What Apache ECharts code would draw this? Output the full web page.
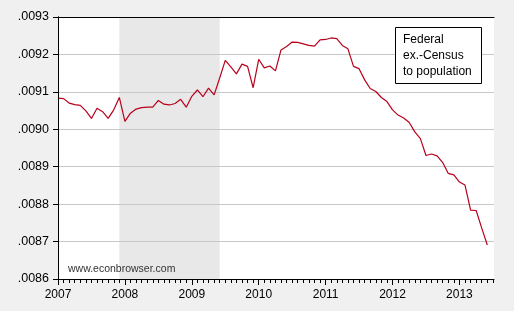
<!DOCTYPE html>
<html><head><meta charset="utf-8">
<script src="https://cdn.jsdelivr.net/npm/echarts@6/dist/echarts.min.js"></script>
<style>html,body{margin:0;padding:0;background:#F0F0F0}#c{width:514px;height:311px}</style>
</head><body><div id="c"></div>
<script>
// Monthly, 2007M01 .. 2013M06 (index 0 = 2007M01)
const startYear = 2007;
const tickLabels = ['2007','2008','2009','2010','2011','2012','2013'];
const ratio = [
  0.009083,0.009082,0.009070,0.009066,0.009064,0.009049,0.009029,0.009056,0.009047,0.009029,0.009052,0.009085,
  0.009021,0.009043,0.009054,0.009058,0.009059,0.009059,0.009077,0.009067,0.009065,0.009069,0.009080,0.009059,
  0.009088,0.009105,0.009087,0.009110,0.009092,0.009137,0.009184,0.009167,0.009148,0.009174,0.009168,0.009111,
  0.009187,0.009164,0.009169,0.009156,0.009212,0.009221,0.009233,0.009232,0.009228,0.009224,0.009222,0.009239,
  0.009240,0.009244,0.009242,0.009224,0.009215,0.009168,0.009162,0.009132,0.009109,0.009101,0.009085,0.009074,
  0.009052,0.009038,0.009030,0.009018,0.008993,0.008975,0.008930,0.008934,0.008929,0.008911,0.008882,0.008878,
  0.008859,0.008851,0.008784,0.008783,0.008736,0.008691
];
const recession = [11, 29]; // 2007M12 .. 2009M06
const legendLines = ['Federal', 'ex.-Census', 'to population'];
const watermark = 'www.econbrowser.com';

const nMonths = 78.2;
const majorTicks = tickLabels.map((t, i) => i * 12);
const minorTicks = [];
for (let m = 0; m <= 78; m++) minorTicks.push(m);
const font = 'Liberation Sans, Arial, sans-serif';

const chart = echarts.init(document.getElementById('c'), null, {renderer: 'canvas'});
chart.setOption({
  backgroundColor: '#F0F0F0',
  animation: false,
  grid: {left: 58, top: 17, right: 20, bottom: 32, show: true, backgroundColor: '#FFFFFF', borderWidth: 0},
  title: [
    {
      text: legendLines.join('\n'), left: 395, top: 27, padding: [5, 10, 4, 8],
      borderColor: '#000', borderWidth: 1, backgroundColor: '#FFFFFF',
      textStyle: {fontFamily: font, fontSize: 12, fontWeight: 'normal', color: '#000', lineHeight: 16},
      z: 10
    },
    {
      text: watermark, left: 68, top: 264, padding: 0,
      textStyle: {fontFamily: font, fontSize: 10.5, fontWeight: 'normal', color: '#333'},
      z: 10
    }
  ],
  xAxis: [
    {
      type: 'value', min: 0, max: nMonths, position: 'bottom', z: 4,
      axisLine: {show: true, lineStyle: {color: '#000', width: 1}},
      axisTick: {show: true, customValues: majorTicks, length: 6, lineStyle: {color: '#000'}},
      axisLabel: {show: true, customValues: majorTicks, margin: 10,
        formatter: v => tickLabels[Math.round(v / 12)],
        fontFamily: font, fontSize: 12, color: '#000'},
      splitLine: {show: false}
    },
    {
      type: 'value', min: 0, max: nMonths, position: 'bottom', z: 4,
      axisLine: {show: false},
      axisTick: {show: true, customValues: minorTicks, length: 4, lineStyle: {color: '#000'}},
      axisLabel: {show: false}, splitLine: {show: false}
    },
    {
      type: 'value', min: 0, max: nMonths, position: 'top', z: 4,
      axisLine: {show: true, lineStyle: {color: '#000', width: 1}},
      axisTick: {show: false}, axisLabel: {show: false}, splitLine: {show: false}
    }
  ],
  yAxis: [
    {
      type: 'value', min: 0.0086, max: 0.0093, interval: 0.0001, position: 'left', z: 2,
      axisLine: {show: true, lineStyle: {color: '#000', width: 1}},
      axisTick: {show: true, length: 5, lineStyle: {color: '#000'}},
      axisLabel: {margin: 9, fontFamily: font, fontSize: 12.5, color: '#000',
        formatter: v => v.toFixed(4).replace(/^0/, '')},
      splitLine: {show: true, lineStyle: {color: '#C8C8C8', width: 1}}
    },
    {
      type: 'value', min: 0.0086, max: 0.0093, position: 'right', z: 4,
      axisLine: {show: true, lineStyle: {color: '#000', width: 1}},
      axisTick: {show: false}, axisLabel: {show: false}, splitLine: {show: false}
    }
  ],
  series: [
    {
      type: 'line', z: 1, silent: true, symbol: 'none',
      data: ratio.map((v, i) => [i, v]),
      lineStyle: {width: 0, opacity: 0},
      markArea: {silent: true, itemStyle: {color: '#E8E8E8'},
        data: [[{xAxis: recession[0]}, {xAxis: recession[1]}]]}
    },
    {
      type: 'line', z: 3, symbol: 'none', silent: true,
      data: ratio.map((v, i) => [i, v]),
      lineStyle: {color: '#B8001C', width: 1.2}
    }
  ]
});
</script></body></html>
